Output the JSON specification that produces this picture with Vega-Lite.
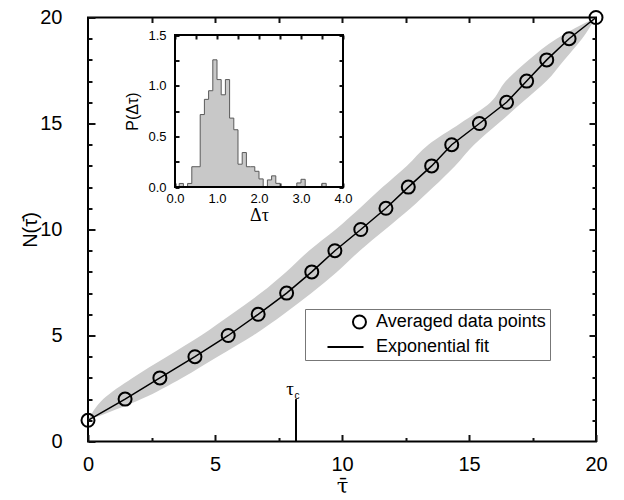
{
  "$schema": "https://vega.github.io/schema/vega-lite/v6.json",
  "width": 508,
  "height": 424,
  "autosize": {"type": "none"},
  "padding": {"left": 88, "top": 17.5, "right": 28, "bottom": 58.5},
  "background": "white",
  "config": {
    "view": {"stroke": "black", "strokeWidth": 2},
    "axis": {
      "domain": false, "grid": false,
      "labelColor": "black", "labelFont": "Liberation Sans", "labelFlush": false,
      "labelOverlap": false, "titleColor": "black", "titleFont": "Liberation Sans",
      "titleFontWeight": "normal"
    },
    "legend": {"zindex": 2}
  },
  "datasets": {
    "main": [
      {"N": 1, "tau": 0, "lo": 0, "hi": 0},
      {"N": 2, "tau": 1.46, "lo": 0.6, "hi": 2.1},
      {"N": 3, "tau": 2.83, "lo": 1.75, "hi": 3.7},
      {"N": 4, "tau": 4.21, "lo": 3.1, "hi": 5.1},
      {"N": 5, "tau": 5.52, "lo": 4.45, "hi": 6.5},
      {"N": 6, "tau": 6.7, "lo": 5.65, "hi": 7.7},
      {"N": 7, "tau": 7.82, "lo": 6.8, "hi": 8.8},
      {"N": 8, "tau": 8.81, "lo": 7.8, "hi": 9.8},
      {"N": 9, "tau": 9.72, "lo": 8.7, "hi": 10.7},
      {"N": 10, "tau": 10.74, "lo": 9.75, "hi": 11.7},
      {"N": 11, "tau": 11.73, "lo": 10.7, "hi": 12.7},
      {"N": 12, "tau": 12.61, "lo": 11.6, "hi": 13.6},
      {"N": 13, "tau": 13.53, "lo": 12.55, "hi": 14.45},
      {"N": 14, "tau": 14.32, "lo": 13.4, "hi": 15.2},
      {"N": 15, "tau": 15.41, "lo": 14.65, "hi": 16.15},
      {"N": 16, "tau": 16.48, "lo": 15.85, "hi": 17.1},
      {"N": 17, "tau": 17.27, "lo": 16.45, "hi": 18.05},
      {"N": 18, "tau": 18.06, "lo": 17.35, "hi": 18.75},
      {"N": 19, "tau": 18.94, "lo": 18.45, "hi": 19.45},
      {"N": 20, "tau": 20, "lo": 20, "hi": 20}
    ],
    "tauc": [{"tau": 8.19, "lo": 0, "hi": 2.0, "symbol": "τ", "sub": "c"}],
    "legend": [{"series": "Averaged data points"}, {"series": "Exponential fit"}],
    "hist": [
      {"dt": 0.0, "p": 0}, {"dt": 0.1, "p": 0.035}, {"dt": 0.2, "p": 0}, {"dt": 0.3, "p": 0.035},
      {"dt": 0.4, "p": 0.2}, {"dt": 0.5, "p": 0.2}, {"dt": 0.6, "p": 0.715}, {"dt": 0.7, "p": 0.865},
      {"dt": 0.8, "p": 0.95}, {"dt": 0.9, "p": 1.255}, {"dt": 1.0, "p": 1.06}, {"dt": 1.1, "p": 0.91},
      {"dt": 1.2, "p": 1.06}, {"dt": 1.3, "p": 0.68}, {"dt": 1.4, "p": 0.565}, {"dt": 1.5, "p": 0.225},
      {"dt": 1.6, "p": 0.34}, {"dt": 1.7, "p": 0.2}, {"dt": 1.8, "p": 0.2}, {"dt": 1.9, "p": 0.155},
      {"dt": 2.0, "p": 0.08}, {"dt": 2.1, "p": 0}, {"dt": 2.2, "p": 0.07}, {"dt": 2.3, "p": 0.11},
      {"dt": 2.4, "p": 0.036}, {"dt": 2.5, "p": 0}, {"dt": 2.6, "p": 0}, {"dt": 2.7, "p": 0},
      {"dt": 2.8, "p": 0}, {"dt": 2.9, "p": 0.04}, {"dt": 3.0, "p": 0.076}, {"dt": 3.1, "p": 0},
      {"dt": 3.2, "p": 0}, {"dt": 3.3, "p": 0}, {"dt": 3.4, "p": 0}, {"dt": 3.5, "p": 0.036},
      {"dt": 3.6, "p": 0}, {"dt": 3.7, "p": 0}, {"dt": 3.8, "p": 0}, {"dt": 3.9, "p": 0}, {"dt": 4.0, "p": 0}
    ]
  },
  "layer": [
    {
      "layer": [
        {
          "data": {"name": "main"},
          "mark": {"type": "area", "orient": "horizontal", "color": "#cccccc", "interpolate": "monotone"},
          "encoding": {
            "y": {"field": "N", "type": "quantitative", "scale": {"domain": [0, 20], "nice": false, "zero": false},
                  "axis": {"orient": "left", "values": [0, 5, 10, 15, 20], "tickSize": -7, "tickColor": "#111111", "tickWidth": 2, "labelFontSize": 20, "labelPadding": 33,
                           "title": "N(τ̄)", "titleFontSize": 20, "titleX": -58, "titleY": 212, "titleAngle": -90,
                           "titleBaseline": "middle", "titleAlign": "center"}},
            "x": {"field": "lo", "type": "quantitative", "scale": {"domain": [0, 20], "nice": false, "zero": false},
                  "axis": {"orient": "bottom", "values": [0, 5, 10, 15, 20], "tickSize": -7, "tickColor": "#111111", "tickWidth": 2, "labelFontSize": 20, "labelPadding": 19.5,
                           "title": "τ̄", "titleFont": "DejaVu Serif", "titleFontSize": 21, "titleX": 254, "titleY": 45,
                           "titleBaseline": "middle", "titleAlign": "center"}},
            "x2": {"field": "hi"}
          }
        },
        {
          "data": {"name": "main"},
          "mark": {"type": "line", "color": "black", "strokeWidth": 1.5},
          "encoding": {
            "x": {"field": "tau", "type": "quantitative", "scale": {"domain": [0, 20], "nice": false, "zero": false},
                  "axis": {"orient": "bottom", "values": [2.5, 7.5, 12.5, 17.5], "tickSize": -4, "tickColor": "#111111", "tickWidth": 2, "labels": false, "title": null}},
            "y": {"field": "N", "type": "quantitative", "scale": {"domain": [0, 20], "nice": false, "zero": false},
                  "axis": {"orient": "left", "values": [1, 2, 3, 4, 6, 7, 8, 9, 11, 12, 13, 14, 16, 17, 18, 19], "tickSize": -4, "tickColor": "#111111", "tickWidth": 2, "labels": false, "title": null}}
          }
        },
        {
          "data": {"name": "main"},
          "mark": {"type": "point", "filled": false, "color": "black", "strokeWidth": 2, "size": 169, "opacity": 1},
          "encoding": {
            "x": {"field": "tau", "type": "quantitative", "scale": {"domain": [0, 20], "nice": false, "zero": false},
                  "axis": {"orient": "top", "values": [2.5, 5, 7.5, 10, 12.5, 15, 17.5], "tickSize": -5, "tickColor": "#111111", "tickWidth": 2, "labels": false, "title": null}},
            "y": {"field": "N", "type": "quantitative", "scale": {"domain": [0, 20], "nice": false, "zero": false},
                  "axis": {"orient": "right", "values": [5, 10, 15], "tickSize": -7, "tickColor": "#111111", "tickWidth": 2, "labels": false, "title": null}}
          }
        },
        {
          "data": {"name": "tauc"},
          "mark": {"type": "rule", "color": "black", "strokeWidth": 2},
          "encoding": {
            "x": {"field": "tau", "type": "quantitative", "scale": {"domain": [0, 20], "nice": false, "zero": false}, "axis": null},
            "y": {"field": "lo", "type": "quantitative", "scale": {"domain": [0, 20], "nice": false, "zero": false},
                  "axis": {"orient": "right", "values": [1, 2, 3, 4, 6, 7, 8, 9, 11, 12, 13, 14, 16, 17, 18, 19], "tickSize": -4, "tickColor": "#111111", "tickWidth": 2, "labels": false, "title": null}},
            "y2": {"field": "hi"}
          }
        },
        {
          "data": {"name": "tauc"},
          "mark": {"type": "text", "font": "Liberation Serif", "fontSize": 19, "dx": -6, "dy": -10, "color": "black"},
          "encoding": {
            "x": {"field": "tau", "type": "quantitative", "scale": {"domain": [0, 20], "nice": false, "zero": false}, "axis": null},
            "y": {"field": "hi", "type": "quantitative", "scale": {"domain": [0, 20], "nice": false, "zero": false}, "axis": null},
            "text": {"field": "symbol"}
          }
        },
        {
          "data": {"name": "tauc"},
          "mark": {"type": "text", "font": "Liberation Sans", "fontSize": 10, "dx": 1, "dy": -3, "color": "black"},
          "encoding": {
            "x": {"field": "tau", "type": "quantitative", "scale": {"domain": [0, 20], "nice": false, "zero": false}, "axis": null},
            "y": {"field": "hi", "type": "quantitative", "scale": {"domain": [0, 20], "nice": false, "zero": false}, "axis": null},
            "text": {"field": "sub"}
          }
        },
        {
          "data": {"name": "legend"},
          "mark": {"type": "point", "filled": false, "color": "black", "strokeWidth": 2, "opacity": 1, "clip": true},
          "encoding": {
            "x": {"datum": -5, "type": "quantitative", "scale": {"domain": [0, 20], "nice": false, "zero": false}, "axis": null},
            "y": {"datum": -5, "type": "quantitative", "scale": {"domain": [0, 20], "nice": false, "zero": false}, "axis": null},
            "shape": {
              "field": "series", "type": "nominal",
              "scale": {"domain": ["Averaged data points", "Exponential fit"],
                        "range": ["M7.38,0A1,1,0,1,1,5.38,0A1,1,0,1,1,7.38,0Z", "M1.46,0H7"]},
              "legend": {"orient": "none", "legendX": 217, "legendY": 291.5, "direction": "vertical", "title": null,
                         "padding": 4, "strokeColor": "#777777", "fillColor": "white", "labelFont": "Liberation Sans",
                         "labelFontSize": 18, "labelColor": "black", "labelLimit": 400, "symbolSize": 169, "symbolStrokeWidth": 2,
                         "symbolStrokeColor": "black", "symbolFillColor": "transparent", "labelOffset": 49, "rowPadding": 5}
            }
          }
        }
      ],
      "resolve": {"axis": {"x": "independent", "y": "independent"}}
    },
    {
      "layer": [
        {
          "data": {"name": "hist"},
          "mark": {"type": "area", "interpolate": "step-after", "color": "#c8c8c8"},
          "encoding": {
            "x": {"field": "dt", "type": "quantitative", "scale": {"domain": [-2.0714, 10.0238], "nice": false, "zero": false},
                  "axis": {"orient": "top", "offset": -17.5, "values": [0, 0.5, 1, 1.5, 2, 2.5, 3, 3.5, 4], "tickSize": -4, "tickColor": "#111111", "tickWidth": 2, "labels": false, "title": null}},
            "y": {"field": "p", "type": "quantitative", "scale": {"domain": [-2.5115, 1.6727], "nice": false, "zero": false},
                  "axis": {"orient": "right", "offset": -253, "values": [0, 0.25, 0.5, 0.75, 1, 1.25, 1.5], "tickSize": -4, "tickColor": "#111111", "tickWidth": 2, "labels": false, "title": null}},
            "y2": {"datum": 0}
          }
        },
        {
          "data": {"name": "hist"},
          "mark": {"type": "line", "interpolate": "step-after", "color": "#5a5a5a", "strokeWidth": 1},
          "encoding": {
            "x": {"field": "dt", "type": "quantitative", "scale": {"domain": [-2.0714, 10.0238], "nice": false, "zero": false},
                  "axis": {"orient": "bottom", "offset": -254.5, "values": [0, 0.5, 1, 1.5, 2, 2.5, 3, 3.5, 4], "tickSize": -4, "tickColor": "#111111", "tickWidth": 2,
                           "labelExpr": "datum.value % 1 == 0 ? format(datum.value, '.1f') : ''", "labelFontSize": 13, "labelPadding": 9.5,
                           "title": "Δτ", "titleFont": "Liberation Serif", "titleFontSize": 18, "titleX": 171, "titleY": 28,
                           "titleBaseline": "middle", "titleAlign": "center"}},
            "y": {"field": "p", "type": "quantitative", "scale": {"domain": [-2.5115, 1.6727], "nice": false, "zero": false},
                  "axis": {"orient": "left", "offset": -87, "values": [0, 0.25, 0.5, 0.75, 1, 1.25, 1.5], "tickSize": -4, "tickColor": "#111111", "tickWidth": 2,
                           "labelExpr": "datum.value % 0.5 == 0 ? format(datum.value, '.1f') : ''", "labelFontSize": 13, "labelPadding": 13,
                           "title": "P(Δτ)", "titleFontSize": 16, "titleX": -43, "titleY": 93.5, "titleAngle": -90,
                           "titleBaseline": "middle", "titleAlign": "center"}}
          }
        },
        {
          "data": {"values": [{}]},
          "mark": {"type": "rect", "filled": false, "stroke": "black", "strokeWidth": 2},
          "encoding": {
            "x": {"datum": 0, "type": "quantitative", "scale": {"domain": [-2.0714, 10.0238], "nice": false, "zero": false}, "axis": null},
            "x2": {"datum": 4},
            "y": {"datum": 0, "type": "quantitative", "scale": {"domain": [-2.5115, 1.6727], "nice": false, "zero": false}, "axis": null},
            "y2": {"datum": 1.5}
          }
        }
      ],
      "resolve": {"axis": {"x": "independent", "y": "independent"}}
    }
  ],
  "resolve": {"scale": {"x": "independent", "y": "independent"}}
}
